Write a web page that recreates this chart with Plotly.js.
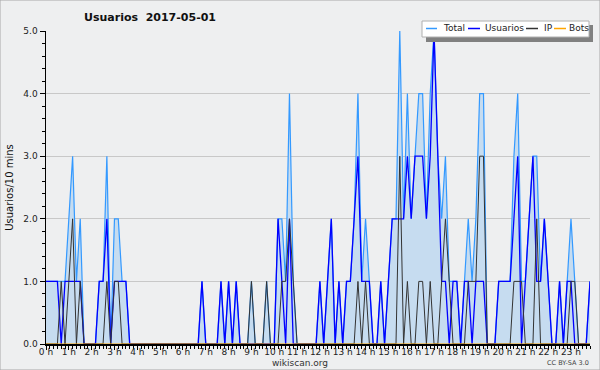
<!DOCTYPE html>
<html>
<head>
<meta charset="utf-8">
<script src="https://cdn.plot.ly/plotly-3.0.1.min.js"></script>
<style>
html,body{margin:0;padding:0;background:#eeeff0;}
#chart{width:600px;height:370px;}
</style>
</head>
<body>
<div id="chart"></div>
<script>
// 10-minute slots, 144 per day
const slotMinutes = 10;
const hourLabels = ["0 h","1 h","2 h","3 h","4 h","5 h","6 h","7 h","8 h","9 h","10 h","11 h",
  "12 h","13 h","14 h","15 h","16 h","17 h","18 h","19 h","20 h","21 h","22 h","23 h"];
const hourTicks = [0,1,2,3,4,5,6,7,8,9,10,11,12,13,14,15,16,17,18,19,20,21,22,23];

const total = [
  1,1,1,1,1,1,2,3,1,2,0,0,
  0,0,1,1,3,0,2,2,1,1,0,0,
  0,0,0,0,0,0,0,0,0,0,0,0,
  0,0,0,0,0,1,0,0,0,0,1,0,
  1,0,1,0,0,0,1,0,0,0,1,0,
  0,2,2,1,4,1,0,0,0,0,0,0,
  1,0,1,2,0,1,0,1,1,2,4,1,
  2,1,0,0,1,0,1,2,2,5,2,4,
  2,3,4,4,2,4,5,3,2,3,1,1,
  1,0,1,2,1,2,4,4,0,0,0,1,
  1,1,1,3,4,1,1,2,3,3,1,2,
  1,0,0,1,0,1,2,1,0,0,0,1
];
const usuarios = [
  1,1,1,1,0,1,1,1,1,1,0,0,
  0,0,1,1,2,0,1,1,1,1,0,0,
  0,0,0,0,0,0,0,0,0,0,0,0,
  0,0,0,0,0,1,0,0,0,0,1,0,
  1,0,1,0,0,0,0,0,0,0,0,0,
  0,2,1,0,2,0,0,0,0,0,0,0,
  1,0,1,2,0,1,0,1,1,2,3,1,
  1,1,0,0,1,0,1,2,2,2,2,3,
  2,3,3,3,2,3,5,3,1,1,0,1,
  1,0,1,1,0,1,1,1,0,0,0,1,
  1,1,1,2,3,0,1,2,3,1,1,2,
  1,0,0,1,0,1,1,0,0,0,0,1
];
const ip = [
  0,0,0,0,1,0,1,2,0,1,0,0,
  0,0,0,0,1,0,1,1,0,0,0,0,
  0,0,0,0,0,0,0,0,0,0,0,0,
  0,0,0,0,0,0,0,0,0,0,0,0,
  0,0,0,0,0,0,1,0,0,0,1,0,
  0,0,1,1,2,1,0,0,0,0,0,0,
  0,0,0,0,0,0,0,0,0,0,1,0,
  1,0,0,0,0,0,0,0,0,3,0,1,
  0,0,1,1,0,1,0,0,1,2,1,0,
  0,0,0,1,1,1,3,3,0,0,0,0,
  0,0,0,1,1,1,0,0,0,2,0,0,
  0,0,0,0,0,0,1,1,0,0,0,0
];
const bots = [
  0,0,0,0,0,0,0,0,0,0,0,0,
  0,0,0,0,0,0,0,0,0,0,0,0,
  0,0,0,0,0,0,0,0,0,0,0,0,
  0,0,0,0,0,0,0,0,0,0,0,0,
  0,0,0,0,0,0,0,0,0,0,0,0,
  0,0,0,0,0,0,0,0,0,0,0,0,
  0,0,0,0,0,0,0,0,0,0,0,0,
  0,0,0,0,0,0,0,0,0,0,0,0,
  0,0,0,0,0,0,0,0,0,0,0,0,
  0,0,0,0,0,0,0,0,0,0,0,0,
  0,0,0,0,0,0,0,0,0,0,0,0,
  0,0,0,0,0,0,0,0,0,0,0,0
];
const seriesNames = ["Total","Usuarios","IP","Bots"];
const seriesColors = ["#3399ff","#0000ff","#333333","#ffa500"];

const hours = total.map((_, i) => i * slotMinutes / 60);

// plot area geometry in pixels
const L = 46, R = 590, T = 31, B = 344;
const px = x => (x - L) / (R - L);
const py = y => (B - y) / (B - T);

const font = "DejaVu Sans, Verdana, sans-serif";

const traces = [
  {x: hours, y: total, name: seriesNames[0], type: "scatter", mode: "lines",
   line: {color: seriesColors[0], width: 1.2}, fill: "tozeroy", fillcolor: "#c6dcf0"},
  {x: hours, y: usuarios, name: seriesNames[1], type: "scatter", mode: "lines",
   line: {color: seriesColors[1], width: 1.3}},
  {x: hours, y: ip, name: seriesNames[2], type: "scatter", mode: "lines",
   line: {color: seriesColors[2], width: 1}},
  {x: hours, y: bots, name: seriesNames[3], type: "scatter", mode: "lines",
   line: {color: seriesColors[3], width: 1}}
];

// custom legend (boxed with shadow)
const legLineX = [[426,437],[468,480],[526,538],[554,566]];
const legTextX = [442, 484, 543, 568];
const legY = 28.5;
const shapes = [
  {type:"rect", xref:"paper", yref:"paper", x0:px(-1), x1:px(601), y0:py(-1), y1:py(371),
   line:{color:"#a8a8a8", width:3}, fillcolor:"rgba(0,0,0,0)", layer:"above"},
  {type:"rect", xref:"paper", yref:"paper", x0:px(426), x1:px(593), y0:py(42), y1:py(25),
   line:{width:0}, fillcolor:"#808080", layer:"above"},
  {type:"rect", xref:"paper", yref:"paper", x0:px(422), x1:px(589), y0:py(37), y1:py(21),
   line:{color:"#b0b0b0", width:1}, fillcolor:"#ffffff", layer:"above"}
];
const annotations = [];
for (let k = 0; k < 4; k++) {
  shapes.push({type:"line", xref:"paper", yref:"paper", x0:px(legLineX[k][0]), x1:px(legLineX[k][1]),
    y0:py(legY), y1:py(legY), line:{color:seriesColors[k], width:1.5}, layer:"above"});
  annotations.push({text: seriesNames[k], xref:"paper", yref:"paper", x:px(legTextX[k] - 1), y:py(legY),
    xanchor:"left", yanchor:"middle", showarrow:false, font:{family:font, size:9, color:"#222"}});
}
annotations.push({text:"wikiscan.org", xref:"paper", yref:"paper", x:px(300), y:py(363),
  xanchor:"center", yanchor:"middle", showarrow:false, font:{family:font, size:9, color:"#333"}});
annotations.push({text:"CC BY-SA 3.0", xref:"paper", yref:"paper", x:px(591), y:py(363),
  xanchor:"right", yanchor:"middle", showarrow:false, font:{family:font, size:6.5, color:"#444"}});

const layout = {
  width: 600, height: 370,
  margin: {l: L, r: 600 - R, t: T, b: 370 - B, pad: 0},
  paper_bgcolor: "#eeeff0", plot_bgcolor: "#eeeff0",
  showlegend: false,
  font: {family: font, size: 9, color: "#222"},
  title: {text: "Usuarios\u00a0 2017-05-01", xref: "container", yref: "container",
    x: 150/600, y: 1 - 17/370, xanchor: "center", yanchor: "middle",
    font: {family: font, size: 11, color: "#111", weight: "bold"}},
  xaxis: {range: [0, 143/6], tickvals: hourTicks, ticktext: hourLabels,
    ticks: "outside", ticklen: 4, tickcolor: "#000", tickwidth: 1,
    ticklabelstandoff: -5,
    showline: true, linecolor: "#000", linewidth: 1.5, showgrid: false, zeroline: false,
    tickfont: {family: font, size: 9, color: "#222"},
    minor: {dtick: 1/6, tick0: 0, ticks: "outside", ticklen: 3, tickcolor: "#000", showgrid: false}},
  yaxis: {range: [0, 5], dtick: 1, tick0: 0, tickformat: ".1f",
    ticks: "outside", ticklen: 5, tickcolor: "#000", tickwidth: 1,
    showline: true, linecolor: "#000", linewidth: 1.5,
    showgrid: true, gridcolor: "#c8c8c8", gridwidth: 1, zeroline: false,
    tickfont: {family: font, size: 9, color: "#222"},
    title: {text: "Usuarios/10 mins", font: {family: font, size: 10, color: "#111"}, standoff: 8},
    minor: {dtick: 0.2, tick0: 0, ticks: "outside", ticklen: 3, tickcolor: "#000", showgrid: false}},
  shapes: shapes,
  annotations: annotations
};

Plotly.newPlot("chart", traces, layout, {displayModeBar: false, staticPlot: true});
</script>
</body>
</html>
